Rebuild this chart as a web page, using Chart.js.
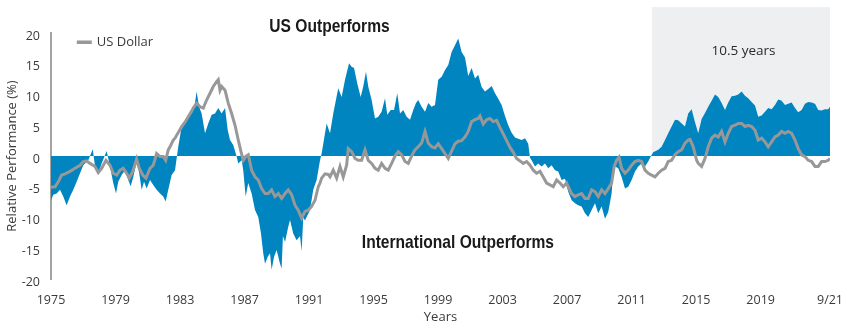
<!DOCTYPE html>
<html>
<head>
<meta charset="utf-8">
<script src="https://cdn.jsdelivr.net/npm/chart.js@4/dist/chart.umd.min.js"></script>
<style>
  html, body { margin: 0; padding: 0; background: #fff; }
</style>
</head>
<body>
<canvas id="chart" width="850" height="331"></canvas>
<script>
(function() {
  'use strict';

  // ── Data ────────────────────────────────────────────────────
  const tickYears = [1975, 1979, 1983, 1987, 1991, 1995, 1999, 2003, 2007, 2011, 2015, 2019];
  const xMax = 2023.3;
  const endLabel = '9/21';
  const shadeStart = 2012.26;
  const shadeTop = 24.2;

  // Relative performance, US vs international (%)
  const perfYears = [
    1975.00, 1975.14, 1975.35, 1975.56, 1975.76, 1975.97, 1976.18, 1976.38, 1976.59, 1976.80,
    1977.00, 1977.31, 1977.59, 1977.73, 1977.93, 1978.14, 1978.45, 1978.66, 1978.86, 1979.03,
    1979.17, 1979.38, 1979.59, 1979.79, 1979.94, 1980.10, 1980.31, 1980.47, 1980.62, 1980.77,
    1980.93, 1981.14, 1981.34, 1981.55, 1981.76, 1981.96, 1982.11, 1982.27, 1982.48, 1982.69,
    1982.89, 1983.06, 1983.31, 1983.51, 1983.72, 1983.88, 1984.03, 1984.18, 1984.34, 1984.55,
    1984.75, 1984.96, 1985.17, 1985.37, 1985.58, 1985.79, 1985.96, 1986.10, 1986.30, 1986.51,
    1986.61, 1986.82, 1986.92, 1987.07, 1987.23, 1987.44, 1987.65, 1987.85, 1988.02, 1988.16,
    1988.27, 1988.44, 1988.58, 1988.68, 1988.83, 1988.99, 1989.20, 1989.30, 1989.38, 1989.51,
    1989.71, 1989.82, 1990.02, 1990.23, 1990.44, 1990.54, 1990.64, 1990.75, 1990.85, 1991.06,
    1991.26, 1991.47, 1991.68, 1991.78, 1992.09, 1992.30, 1992.50, 1992.81, 1993.02, 1993.23,
    1993.48, 1993.64, 1993.79, 1993.99, 1994.20, 1994.36, 1994.53, 1994.67, 1994.88, 1995.09,
    1995.29, 1995.50, 1995.71, 1995.85, 1996.06, 1996.27, 1996.47, 1996.64, 1996.84, 1997.05,
    1997.26, 1997.46, 1997.63, 1997.77, 1997.98, 1998.19, 1998.39, 1998.60, 1998.81, 1999.01,
    1999.22, 1999.43, 1999.63, 1999.84, 2000.05, 2000.25, 2000.46, 2000.67, 2000.87, 2001.08,
    2001.29, 2001.49, 2001.70, 2001.91, 2002.11, 2002.32, 2002.53, 2002.73, 2002.94, 2003.15,
    2003.35, 2003.56, 2003.77, 2003.97, 2004.18, 2004.39, 2004.59, 2004.70, 2004.80, 2005.01,
    2005.21, 2005.42, 2005.63, 2005.83, 2006.04, 2006.25, 2006.45, 2006.66, 2006.87, 2007.07,
    2007.28, 2007.49, 2007.69, 2007.90, 2008.11, 2008.31, 2008.52, 2008.73, 2008.93, 2009.14,
    2009.35, 2009.55, 2009.76, 2009.86, 2009.97, 2010.17, 2010.38, 2010.59, 2010.79, 2011.00,
    2011.21, 2011.41, 2011.62, 2011.83, 2012.03, 2012.20, 2012.34, 2012.65, 2012.86, 2013.07,
    2013.27, 2013.48, 2013.69, 2013.89, 2014.10, 2014.31, 2014.51, 2014.72, 2014.93, 2015.13,
    2015.34, 2015.55, 2015.75, 2015.96, 2016.17, 2016.37, 2016.58, 2016.79, 2016.99, 2017.20,
    2017.41, 2017.61, 2017.82, 2018.03, 2018.23, 2018.44, 2018.65, 2018.85, 2019.06, 2019.27,
    2019.47, 2019.68, 2019.89, 2020.09, 2020.30, 2020.51, 2020.71, 2020.92, 2021.13, 2021.33,
    2021.54, 2021.75, 2021.95, 2022.16, 2022.37, 2022.57, 2022.78, 2022.99, 2023.19, 2023.30
  ];
  const perfValues = [
    -7.2, -6.3, -6.1, -5.5, -6.6, -8.0, -6.6, -5.5, -4.2, -2.8,
    -1.5, -0.7, 1.1, -1.7, -2.8, -1.2, 0.8, -1.7, -4.4, -6.1,
    -4.2, -3.1, -2.3, -3.9, -4.9, -3.4, -0.9, -2.8, -5.5, -4.2,
    -5.3, -3.9, -4.7, -5.5, -6.1, -6.6, -7.4, -5.5, -3.1, -2.3,
    1.5, 4.2, 5.3, 6.4, 6.9, 7.8, 10.5, 8.0, 6.9, 3.7,
    5.3, 6.7, 6.9, 7.8, 6.9, 7.8, 4.2, 2.6, 1.8, -0.1,
    -1.2, -0.7, -2.3, -6.6, -4.4, -6.1, -8.8, -9.9, -12.6, -15.8,
    -17.5, -16.4, -15.8, -18.5, -16.4, -15.3, -17.5, -18.3, -13.0, -14.0,
    -11.5, -10.4, -12.6, -13.7, -13.0, -15.5, -10.0, -10.5, -9.9, -8.8,
    -5.5, -3.9, -0.7, 0.4, 5.3, 3.7, 6.9, 11.0, 9.6, 12.4,
    15.1, 14.5, 14.3, 11.8, 9.6, 11.3, 13.7, 11.3, 9.1, 6.1,
    6.4, 7.2, 9.4, 6.7, 7.5, 7.5, 10.2, 6.9, 7.5, 6.4,
    5.9, 7.5, 8.6, 9.1, 8.0, 7.2, 8.6, 8.0, 8.3, 12.4,
    12.9, 14.0, 14.8, 16.9, 18.0, 19.1, 16.9, 16.0, 13.0, 14.3,
    12.6, 13.2, 11.2, 10.5, 10.9, 11.4, 10.2, 9.3, 8.3, 6.5,
    5.0, 3.8, 3.0, 2.8, 2.6, 2.9, 2.0, -0.3, -0.7, -1.7,
    -1.2, -1.7, -1.2, -2.0, -1.5, -2.3, -2.5, -3.9, -3.7, -5.8,
    -7.2, -7.7, -8.0, -8.2, -9.3, -9.9, -8.8, -7.7, -9.3, -8.2,
    -10.2, -9.1, -6.1, -2.8, -1.7, -2.0, -3.4, -5.3, -5.0, -3.9,
    -2.5, -1.7, -1.2, -1.7, -0.9, 0.0, 0.6, 1.0, 1.5, 2.6,
    3.7, 4.8, 5.9, 5.8, 5.3, 4.8, 6.9, 7.6, 5.5, 3.7,
    6.0, 7.0, 8.0, 9.0, 10.0, 9.6, 8.6, 7.5, 8.7, 9.7,
    9.8, 10.0, 10.5, 9.8, 9.4, 8.8, 8.2, 6.4, 6.6, 7.2,
    7.8, 7.6, 8.3, 9.2, 9.0, 8.3, 8.5, 8.7, 7.8, 7.1,
    7.5, 8.5, 8.8, 8.7, 8.5, 7.5, 7.4, 7.6, 7.6, 8.0
  ];

  // US Dollar
  const usdYears = [
    1975.00, 1975.25, 1975.45, 1975.66, 1975.87, 1976.18, 1976.49, 1976.80, 1977.00, 1977.21,
    1977.42, 1977.73, 1977.93, 1978.14, 1978.41, 1978.66, 1978.86, 1979.07, 1979.28, 1979.48,
    1979.69, 1979.85, 1980.07, 1980.31, 1980.47, 1980.69, 1980.89, 1981.14, 1981.34, 1981.55,
    1981.76, 1981.96, 1982.11, 1982.27, 1982.38, 1982.58, 1982.69, 1982.89, 1983.10, 1983.31,
    1983.51, 1983.72, 1983.82, 1984.03, 1984.24, 1984.44, 1984.65, 1984.86, 1985.06, 1985.27,
    1985.37, 1985.48, 1985.58, 1985.79, 1985.99, 1986.20, 1986.41, 1986.61, 1986.78, 1986.92,
    1987.07, 1987.23, 1987.44, 1987.65, 1987.85, 1988.06, 1988.27, 1988.47, 1988.68, 1988.89,
    1989.09, 1989.30, 1989.51, 1989.71, 1989.92, 1990.13, 1990.33, 1990.54, 1990.75, 1990.95,
    1991.16, 1991.37, 1991.57, 1991.68, 1991.78, 1991.99, 1992.19, 1992.30, 1992.50, 1992.71,
    1992.92, 1993.12, 1993.33, 1993.43, 1993.64, 1993.85, 1994.05, 1994.26, 1994.47, 1994.67,
    1994.88, 1995.09, 1995.29, 1995.50, 1995.71, 1995.91, 1996.12, 1996.33, 1996.53, 1996.74,
    1996.95, 1997.15, 1997.36, 1997.57, 1997.77, 1997.98, 1998.19, 1998.39, 1998.60, 1998.81,
    1999.01, 1999.22, 1999.43, 1999.63, 1999.84, 2000.05, 2000.25, 2000.46, 2000.67, 2000.87,
    2001.08, 2001.29, 2001.49, 2001.60, 2001.80, 2002.01, 2002.22, 2002.42, 2002.63, 2002.84,
    2003.04, 2003.25, 2003.46, 2003.66, 2003.87, 2004.08, 2004.28, 2004.49, 2004.70, 2004.90,
    2005.11, 2005.32, 2005.52, 2005.73, 2005.94, 2006.14, 2006.35, 2006.56, 2006.76, 2006.97,
    2007.07, 2007.28, 2007.49, 2007.69, 2007.90, 2008.11, 2008.31, 2008.52, 2008.73, 2008.93,
    2009.14, 2009.35, 2009.55, 2009.76, 2009.92, 2010.07, 2010.22, 2010.38, 2010.59, 2010.79,
    2011.00, 2011.21, 2011.41, 2011.62, 2011.83, 2012.03, 2012.24, 2012.45, 2012.65, 2012.86,
    2013.07, 2013.27, 2013.48, 2013.69, 2013.89, 2014.10, 2014.31, 2014.51, 2014.62, 2014.82,
    2015.03, 2015.13, 2015.34, 2015.55, 2015.75, 2015.96, 2016.17, 2016.37, 2016.58, 2016.79,
    2016.99, 2017.20, 2017.41, 2017.61, 2017.82, 2018.03, 2018.23, 2018.44, 2018.65, 2018.85,
    2019.06, 2019.27, 2019.47, 2019.68, 2019.89, 2020.09, 2020.30, 2020.51, 2020.71, 2020.92,
    2021.13, 2021.33, 2021.54, 2021.75, 2021.95, 2022.16, 2022.37, 2022.57, 2022.78, 2022.99,
    2023.19, 2023.30
  ];
  const usdValues = [
    -5.1, -5.0, -4.2, -3.1, -2.9, -2.5, -2.0, -1.5, -0.9, -0.8,
    -1.2, -1.7, -2.7, -2.0, -0.7, -1.5, -2.8, -3.1, -2.3, -2.0,
    -2.8, -3.6, -2.5, -0.5, -2.0, -3.1, -3.6, -2.0, -1.5, 0.4,
    -0.1, -0.1, -0.7, 1.0, 1.5, 2.6, 2.9, 3.8, 4.8, 5.5,
    6.4, 7.3, 7.8, 8.6, 8.0, 7.8, 9.1, 10.2, 11.3, 12.1,
    12.4, 10.7, 11.3, 10.7, 8.6, 6.9, 5.0, 2.6, 0.7, -0.7,
    -0.1, 0.2, -2.3, -3.4, -3.9, -5.3, -6.1, -6.1, -5.5, -6.6,
    -6.1, -6.9, -6.1, -5.5, -6.3, -8.0, -8.8, -10.1, -9.0, -8.8,
    -8.2, -7.2, -5.0, -4.4, -3.6, -2.9, -3.0, -3.4, -2.3, -3.6,
    -1.7, -3.4, -1.5, 1.2, 0.7, -0.4, -0.7, -0.7, 1.0, -0.7,
    -1.2, -2.0, -2.3, -1.2, -2.0, -2.3, -1.2, 0.0, 0.7, 0.2,
    -0.9, -1.2, 0.0, 1.0, 1.5, 2.1, 4.0, 2.1, 1.5, 1.3,
    2.0, 1.2, 0.4, -0.4, 0.8, 2.0, 2.4, 2.5, 3.1, 4.0,
    5.6, 5.9, 6.1, 6.5, 5.2, 5.9, 6.1, 5.6, 5.8, 4.6,
    3.6, 2.5, 1.4, 0.6, -0.4, -0.8, -1.2, -0.9, -1.5, -2.3,
    -2.8, -2.5, -3.4, -4.4, -4.7, -5.0, -3.9, -4.4, -5.0, -4.4,
    -5.0, -6.1, -6.6, -6.3, -6.1, -6.9, -6.9, -5.5, -5.8, -6.6,
    -5.5, -6.1, -5.3, -4.4, -1.7, -0.7, -0.2, -2.0, -2.8, -2.3,
    -1.5, -0.9, -0.7, -0.9, -2.3, -2.8, -3.1, -3.4, -2.8, -2.3,
    -2.0, -0.9, -0.7, 0.2, 0.7, 1.0, 2.1, 2.6, 2.7, 1.5,
    -0.7, -1.2, -1.7, -0.4, 1.5, 2.9, 3.4, 3.1, 4.0, 2.3,
    3.7, 4.8, 5.0, 5.3, 5.3, 4.8, 5.0, 4.8, 4.2, 2.6,
    2.9, 2.3, 1.5, 2.3, 3.1, 3.4, 4.0, 3.7, 4.0, 3.7,
    2.6, 1.2, 0.2, -0.1, -0.7, -0.9, -1.7, -1.7, -0.9, -0.9,
    -0.7, -0.4
  ];

  const BLUE = 'rgb(0, 133, 192)';
  const GREY = 'rgb(152, 152, 152)';
  const TEXT = '#3a3a3a';
  const SANS = "'Open Sans', 'Noto Sans', sans-serif";
  const BOLD = "'Liberation Sans', Arial, sans-serif";

  const toPoints = (xs, ys) => xs.map((x, i) => ({ x: x, y: ys[i] }));

  // condensed headline: regular bold face squeezed horizontally
  function narrowText(ctx, text, cx, cy, squeeze) {
    ctx.save();
    ctx.translate(cx, cy);
    ctx.scale(squeeze, 1);
    ctx.fillText(text, 0, 0);
    ctx.restore();
  }

  // ── Background shading, annotations and legend ──────────────
  const decorPlugin = {
    id: 'decor',
    beforeDatasetsDraw(chart) {
      const { ctx, scales: { x, y } } = chart;
      const left = x.getPixelForValue(shadeStart);
      const right = x.getPixelForValue(xMax);
      const top = y.getPixelForValue(shadeTop);
      const bottom = y.getPixelForValue(0);
      ctx.save();
      ctx.fillStyle = '#eeeff0';
      ctx.fillRect(left, top, right - left, bottom - top);
      ctx.restore();
    },
    afterDatasetsDraw(chart) {
      const { ctx, scales: { x, y } } = chart;
      ctx.save();
      ctx.textAlign = 'center';
      ctx.textBaseline = 'middle';
      ctx.fillStyle = '#1a1a1a';
      ctx.font = 'bold 19px ' + BOLD;
      narrowText(ctx, 'US Outperforms', x.getPixelForValue(1992.27), y.getPixelForValue(21.0), 0.82);
      narrowText(ctx, 'International Outperforms', x.getPixelForValue(2000.23), y.getPixelForValue(-14.1), 0.82);
      ctx.font = '13.5px ' + SANS;
      ctx.fillStyle = '#2a2a2a';
      ctx.fillText('10.5 years', x.getPixelForValue(2017.94), y.getPixelForValue(17.0));

      // legend
      const ly = y.getPixelForValue(18.5);
      const lx = x.getPixelForValue(1976.6);
      ctx.strokeStyle = GREY;
      ctx.lineWidth = 3.5;
      ctx.beginPath();
      ctx.moveTo(lx, ly);
      ctx.lineTo(lx + 15, ly);
      ctx.stroke();
      ctx.textAlign = 'left';
      ctx.font = '13px ' + SANS;
      ctx.fillStyle = TEXT;
      ctx.fillText('US Dollar', lx + 20, ly);
      ctx.restore();
    }
  };

  const ctx = document.getElementById('chart').getContext('2d');
  new Chart(ctx, {
    type: 'line',
    data: {
      datasets: [
        {
          label: 'US Dollar',
          data: toPoints(usdYears, usdValues),
          borderColor: GREY,
          borderWidth: 3,
          pointRadius: 0,
          tension: 0,
          fill: false,
          order: 0
        },
        {
          label: 'Relative Performance',
          data: toPoints(perfYears, perfValues),
          borderWidth: 0,
          borderColor: BLUE,
          backgroundColor: BLUE,
          pointRadius: 0,
          tension: 0,
          fill: 'origin',
          order: 1
        }
      ]
    },
    options: {
      responsive: false,
      animation: false,
      layout: { padding: { left: 0, right: 20, top: 33, bottom: 0 } },
      plugins: {
        legend: { display: false },
        tooltip: { enabled: false }
      },
      scales: {
        x: {
          type: 'linear',
          min: 1975,
          max: xMax,
          grid: { display: false },
          border: { display: false },
          afterBuildTicks: axis => {
            axis.ticks = tickYears.concat([xMax]).map(v => ({ value: v }));
          },
          afterFit: axis => { axis.height = 52; },
          ticks: {
            autoSkip: false,
            maxRotation: 0,
            padding: 6,
            color: TEXT,
            font: { family: SANS, size: 12.5 },
            callback: v => (v === xMax ? endLabel : String(v))
          },
          title: {
            display: true,
            text: 'Years',
            color: TEXT,
            font: { family: SANS, size: 13 },
            padding: { top: 0, bottom: 6 }
          }
        },
        y: {
          min: -20,
          max: 20,
          grid: { display: false, drawTicks: false },
          border: { display: true, color: '#a3a3a3', width: 2 },
          afterFit: axis => { axis.width = 51; },
          ticks: {
            stepSize: 5,
            padding: 11,
            labelOffset: 3,
            color: TEXT,
            font: { family: SANS, size: 12.5 }
          },
          title: {
            display: true,
            text: 'Relative Performance (%)',
            color: TEXT,
            font: { family: SANS, size: 13 },
            padding: { top: 4, bottom: 0 }
          }
        }
      }
    },
    plugins: [decorPlugin]
  });
})();
</script>
</body>
</html>
